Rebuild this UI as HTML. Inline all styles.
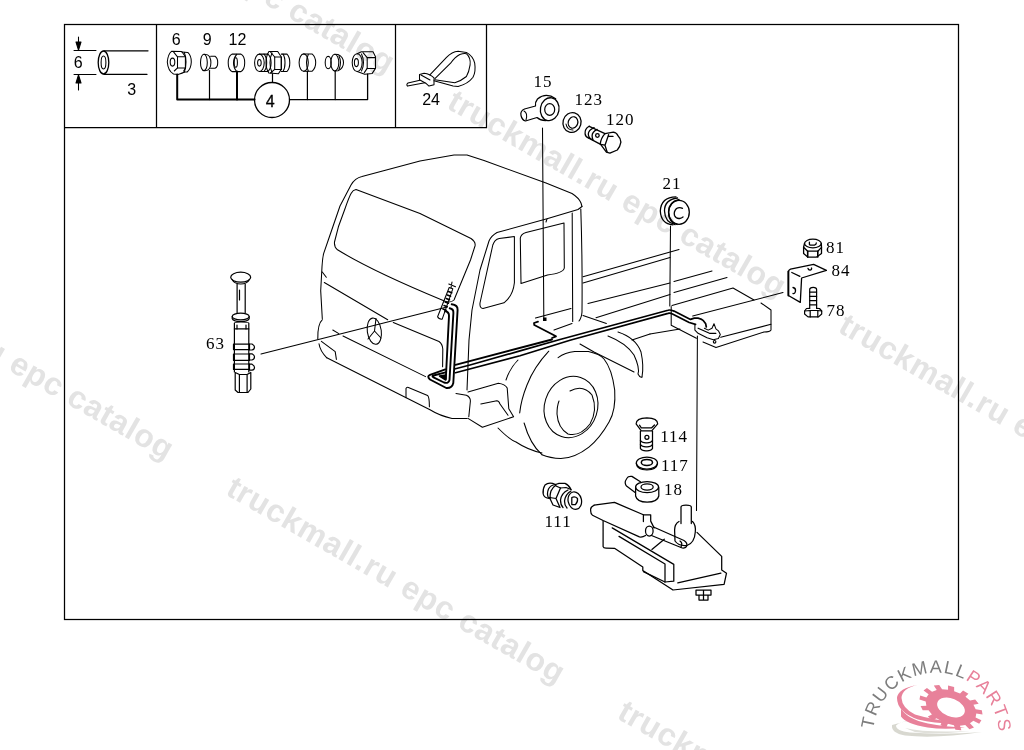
<!DOCTYPE html>
<html><head><meta charset="utf-8">
<style>
html,body{margin:0;padding:0;background:#fff;width:1024px;height:750px;overflow:hidden}
svg{display:block;will-change:transform}
.wm{font-family:"Liberation Sans",sans-serif;font-weight:bold;font-size:32px;letter-spacing:0.65px;fill:#e3e3e3}
.ls{font-family:"Liberation Sans",sans-serif;font-size:16px;fill:#000}
.lr{font-family:"Liberation Serif",serif;font-size:17px;letter-spacing:1px;fill:#000}
.k{fill:none;stroke:#000;stroke-width:1.05;stroke-linejoin:round;stroke-linecap:round}
.fr{fill:none;stroke:#000;stroke-width:1.25}
</style></head><body>
<svg width="1024" height="750" viewBox="0 0 1024 750">
<rect x="0" y="0" width="1024" height="750" fill="#fff"/>
<!-- WATERMARKS -->
<g id="wms">
<text class="wm" transform="translate(54.4,-116.4) rotate(29.8)">truckmall.ru epc catalog</text>
<text class="wm" transform="translate(445.6,107.4) rotate(29.8)">truckmall.ru epc catalog</text>
<text class="wm" transform="translate(836.8,331.2) rotate(29.8)">truckmall.ru epc catalog</text>
<text class="wm" transform="translate(-166.7,270.1) rotate(29.8)">truckmall.ru epc catalog</text>
<text class="wm" transform="translate(224.5,493.9) rotate(29.8)">truckmall.ru epc catalog</text>
<text class="wm" transform="translate(615.7,717.7) rotate(29.8)">truckmall.ru epc catalog</text>
</g>

<!-- FRAME -->
<g id="frame">
<rect class="fr" x="64.5" y="24.5" width="894" height="595"/>
<polyline class="fr" points="64.5,127.5 486.5,127.5 486.5,24.5"/>
<line class="fr" x1="156.5" y1="24.5" x2="156.5" y2="127"/>
<line class="fr" x1="395.5" y1="24.5" x2="395.5" y2="127"/>
</g>

<!-- BOX1 -->
<g id="box1" class="k">
<line x1="74" y1="50.5" x2="96" y2="50.5"/>
<line x1="74" y1="74.5" x2="96" y2="74.5"/>
<line x1="78.5" y1="37" x2="78.5" y2="50"/>
<line x1="78.5" y1="75" x2="78.5" y2="90"/>
<path d="M76,42 L81,42 L78.5,50 Z" fill="#000"/>
<path d="M76,83 L81,83 L78.5,75 Z" fill="#000"/>
<ellipse cx="103.5" cy="62.5" rx="5.3" ry="11.5" stroke-width="1.3"/>
<ellipse cx="103.5" cy="62.5" rx="2.4" ry="6.5"/>
<line x1="104" y1="50.8" x2="148" y2="50.8" stroke-width="1.3"/>
<line x1="104" y1="74.3" x2="147" y2="74.3" stroke-width="1.3"/>
</g>
<g id="box2" class="k" stroke-width="1.25">
<!-- nut 6 -->
<path d="M181.5,51.5 L171.5,51.3 Q168,54 167.3,62 Q168,71 173.5,74 L178,74.5 Q183,73 184.3,72"/>
<ellipse cx="172.5" cy="62.1" rx="2.3" ry="4"/>
<rect x="177.5" y="56.8" width="7.9" height="11.1"/>
<path d="M173.7,52.1 L177.5,56.8 M177.5,67.9 L174.3,71 M185.4,56.8 L181.9,51.8 M185.4,67.9 L183.7,71"/>
<path d="M181.9,52 L187.8,52.4 Q191.5,56 191.3,62.1 Q191,69 187.2,72 L184.3,72"/>
<path d="M184.3,52.4 Q186.2,57 186,62 Q186,68 184.3,72"/>
<!-- 9 -->
<ellipse cx="203.9" cy="62.4" rx="3.4" ry="8.2"/>
<path d="M204,54.2 Q208,54 209.5,56.5 Q211,60 210.9,62.4 Q211,66 209.5,68.5 Q208,71 204,70.6"/>
<path d="M210.6,56.2 L215,56.2 Q217.8,58 217.7,62.4 Q217.8,67 215,68.2 L210.6,68.2"/>
<!-- 12 -->
<path d="M232,54.1 L241,54.1 Q244.7,56 244.7,62.8 Q244.7,69.5 241,71.6 L232,71.6 Q228.2,69.5 228.2,62.8 Q228.2,56 232,54.1 Z"/>
<path d="M236.7,54.3 Q233.5,58 233.5,62.8 Q233.5,68 236.7,71.5"/>
<ellipse cx="235.8" cy="62.5" rx="1.6" ry="4.8"/>
<!-- union 4 -->
<ellipse cx="259.4" cy="62.8" rx="4.8" ry="8.7"/>
<ellipse cx="259.4" cy="62.8" rx="1.8" ry="3.3"/>
<path d="M259.4,54.1 L264,54.1 Q266.7,57 266.7,62.8 Q266.7,68.5 264,71.5 L259.4,71.5"/>
<path d="M264,54.1 L268,54.1 Q271.1,57 271.1,62.8 Q271.1,68.5 268,71.5 L264,71.5"/>
<path d="M268.9,51.5 L277.7,51.5 L281.3,57 L281.3,69.4 L278.4,73.8 L268.9,73.1 Q266,69 266,62.8 Q266,56 268.9,51.5"/>
<path d="M272,53 Q270,57 270,62.8 Q270,68.5 272,72.5"/>
<rect x="274.7" y="57" width="6.6" height="12.4"/>
<path d="M270.5,52 L274.7,57 M274.7,69.4 L270.5,73"/>
<path d="M281.3,54.1 L283,54.1 Q285,57 285,62.8 Q285,68.5 283,71.5 L281.3,71.5"/>
<path d="M283,54.1 L287,54.1 Q289.8,57 289.8,62.8 Q289.8,68.5 287,71.5 L283,71.5"/>
<!-- cylinder -->
<ellipse cx="303.7" cy="62.6" rx="4.6" ry="8.7"/>
<path d="M303.7,53.9 L312,53.9 Q315.7,57 315.7,62.6 Q315.7,68.5 312,71.3 L303.7,71.3"/>
<path d="M308.3,54.5 Q306.5,58 306.5,62.6 Q306.5,67.5 308.3,71"/>
<!-- small fitting -->
<ellipse cx="328.2" cy="62.6" rx="3" ry="6.2"/>
<ellipse cx="334.8" cy="62.6" rx="4" ry="8.3"/>
<path d="M334.8,54.3 L338,54.5 Q343.5,57 343.5,62.6 Q343.5,68.5 338,70.8 L334.8,70.9"/>
<path d="M339,56 Q340.5,59 340.5,62.6 Q340.5,66 339,69.5"/>
<!-- nut -->
<ellipse cx="357.2" cy="62.6" rx="5" ry="8.9"/>
<ellipse cx="356.4" cy="62.6" rx="2" ry="4"/>
<path d="M357.2,53.7 L361.4,51.8 L373,51.8 L375.5,56.8 L375.5,68.4 L372.2,73.4 L364.7,74.2 L357.2,71.5"/>
<rect x="367.2" y="57.6" width="8.3" height="10.8"/>
<path d="M363,52.6 L367.2,57.6 M367.2,68.4 L364.3,72.6"/>
<path d="M361.5,54 Q363.5,58 363.5,62.6 Q363.5,67 361.5,71"/>
<!-- leaders -->
<polyline points="177.2,74.5 177.2,99.6 254.5,99.6" stroke-width="2"/>
<line x1="209.5" y1="70.6" x2="209.5" y2="99.6" stroke-width="1.2"/>
<line x1="237" y1="71.6" x2="237" y2="99.6" stroke-width="2"/>
<line x1="272.5" y1="73.8" x2="272.5" y2="82.5" stroke-width="1.2"/>
<polyline points="289.5,99.6 367.6,99.6 367.6,74.2" stroke-width="1.3"/>
<line x1="307.4" y1="71.3" x2="307.4" y2="99.6" stroke-width="1.2"/>
<line x1="335.2" y1="70.9" x2="335.2" y2="99.6" stroke-width="1.2"/>
<circle cx="272" cy="100" r="17.5" stroke-width="1.3"/>
</g>
<g id="box3" class="k" stroke-width="1.25">
<path d="M419.9,80.2 L408,83 Q406,84.5 407.5,86.1 L424.9,82.7"/>
<path d="M419.5,74.5 L424.1,73.2 Q430,74 434,77.8 L434,84.8 L429,86.1 L425.7,83.2 L419.5,79.8 Z"/>
<path d="M421,75 L430,80"/>
<path d="M429.9,74.9 L446.5,57.4 Q452,51.5 458.1,51.2 L466.4,52.4 Q473,56 474.7,63.2 Q476,72 473,77.3 Q468,84 458.1,86.5 L453.1,86.1 L434,80.7"/>
<path d="M434.9,78.6 L450.6,63.2 Q455,57 459.8,54.5 Q464,53 466.4,53.7 Q471,58 470.1,64.9 Q469,72 466.4,76.5 Q461,81 454.8,82.7 L434.9,79.8"/>
</g>

<g id="truck" class="k">
<!-- cab outline + roof -->
<path d="M322.3,318.7 L320.7,290.7 L322,266.7 Q322.5,258 323.7,253.3 L328.3,240 L340,206 L351,185 Q355,178 362,176.5 L420,161 L454,155 L467,155 L484,160.5 L546,183 L572,193.5 Q579,198 581,203 L582,206.5"/>
<path d="M582,206.5 L578,209.5 L547,218.8 L497,232.5 Q491,236 489,241 L480,270 L472,310 L469,340 L467,390"/>
<!-- windshield -->
<path d="M356,189.5 L420,213.5 L471,238.5 Q476,242 475,246 L470.5,260 L454,300 Q450,304 442,300 Q372,271 337.5,249.8 Q334,247 334.5,242 L338.4,226.8 L344.8,209.2 Q349,197 351.2,193.2 Q353,190 356,189.5"/>
<!-- door window -->
<path d="M514.4,236.6 L514.4,282.8 Q513,296 504,302.8 L483,308.4 Q479.5,308 480,303 L492.8,245 Q494.5,239.5 499.2,238.4 Z"/>
<!-- rear side window -->
<path d="M526,232.5 L564,223 L564.3,268 Q563.5,273 547.5,275 L521,283.5 L520.3,238 Q521,234 526,232.5"/>
<!-- door rear / cab rear -->
<line x1="572.2" y1="213" x2="572.7" y2="321.5"/>
<path d="M580.8,209 Q582.5,260 582,312 Q581.5,318 579,321"/>
<line x1="583" y1="315.5" x2="606.4" y2="323.4"/>
<path d="M547,218.8 L546,222"/>
<line x1="535.5" y1="318" x2="571" y2="308.5"/>
<line x1="554" y1="330" x2="572" y2="323.5"/>
<!-- front face lines -->
<path d="M322.3,272 L326.3,277.3"/>
<path d="M324.3,282.5 L387.7,319.7 M393.3,322.5 L439,341.5 Q442.5,344 442.8,349 L442.6,366.7"/>
<!-- mercedes star -->
<ellipse cx="374.3" cy="331.2" rx="7" ry="13.2" transform="rotate(-8 374.3 331.2)"/>
<path d="M376,318.5 L374.5,331 L368,339 M374.5,331 L381,338"/>
<!-- left corner/bumper -->
<path d="M322.4,319.7 Q317.5,324 317.8,339 M319,343.8 Q320,351 326.8,357.8"/>
<path d="M321.4,341.4 L335.2,351.6 L336.4,359.4"/>
<path d="M332.8,330 L338.8,333.6 M343,336 L425.6,376.6"/>
<path d="M326.8,357.8 L430,409.8 Q440,416 452,418.4 L467.2,418.4"/>
<path d="M406,397.6 L406,388.5 Q406.5,387 408.4,387.4 L427.6,395.4 Q429.4,397 429.4,406.8"/>
<!-- step -->
<path d="M456,393.6 L466.4,395.2 Q470.4,397 470.4,401 L468.8,416.8"/>
<path d="M468,392 L498.4,383.2 Q505,384 507.2,388 L508.8,408.8 L513.6,416.8 L482.4,427.2 L468,418.4"/>
<path d="M480.8,404 L496.8,400.8 Q499,401 500,404 L508,415.2"/>
<!-- wheel -->
<path d="M558.1,357.6 Q565,352.5 574.7,351.5 L588.4,351.5 Q600,354 604,359 Q612,369 614.7,390 Q616,410 609.2,421.7 Q600,438 588.9,447.1 Q575,458 560.9,458.6 Q550,458 541.9,454.7"/>
<path d="M548.8,351.2 Q534,367 527,385 Q521,400 519.7,412.9"/>
<path d="M524.1,423 Q530,444 541.9,454.7"/>
<path d="M506,380 Q510,368 518,360"/>
<path d="M498,428 Q510,440 516,442 Q528,450 542,453"/>

<ellipse cx="571" cy="407" rx="26.5" ry="31" transform="rotate(18 571 407)"/>
<path d="M570,391 Q583,384 592,395 Q598,410 590,424 Q580,437 568,434 Q558,428 557,414 Q557,406 559,401"/>

<!-- rear fender -->
<path d="M608,336 Q626,343 634,355 Q640,368 638,374 Q640,378 642,377"/>
<path d="M618,332 Q636,338 641,352 Q644,366 642,377"/>
<path d="M580,344 L594,352 L634,372"/>
<line x1="632" y1="340" x2="650" y2="334"/>
<line x1="650" y1="334" x2="680" y2="329"/>
<!-- cargo bed lines -->
<line x1="583" y1="276.7" x2="679" y2="249.5"/>
<line x1="583" y1="283" x2="670" y2="257.5"/>
<line x1="588" y1="303.5" x2="670" y2="283"/>
<line x1="674" y1="281.5" x2="712" y2="271"/>
<line x1="596" y1="317.7" x2="670" y2="294.4"/>
<line x1="674" y1="292.5" x2="727" y2="277.6"/>
<!-- battery box -->
<path d="M672,305.5 L733,288 L754,300"/>
<path d="M761,303 L771,310 L771,330 Q770,332 764,332 L716,347.6 L703,342"/>
<line x1="720.7" y1="337.3" x2="771" y2="324.3"/>
<path d="M671.2,306.5 L671.2,325.2 L696.4,338.3"/>
<line x1="692.7" y1="316" x2="783" y2="292.5"/>
</g>
<g id="pipe" fill="none" stroke-linejoin="round" stroke-linecap="round">
<!-- nozzle -->
<g class="k" stroke-width="1.2">
<path d="M449.2,287.5 L452.8,288.8 L442.2,319.2 Q438.8,319.4 437.6,316.8 Z"/>
<path d="M448.4,291.5 L451.8,292.8 M447.3,295 L450.6,296.3 M446.2,298.5 L449.5,299.8 M445.1,302 L448.4,303.3 M444,305.5 L447.3,306.8 M442.9,309 L446.2,310.3" stroke-width="1.5"/>
<path d="M448.8,284 L455.5,286.8 M452,282 L451,288"/>
</g>
<!-- vertical tubes -->
<path d="M451.7,304.3 Q457.9,305 457.6,310 L453.3,383 Q452,388.5 446.3,388 L430,379.5 Q426.5,376.5 430,374.8 L445.3,369.4" stroke="#000" stroke-width="1.9"/>
<path d="M449.7,308.3 Q453.7,309 453.4,313 L449.5,380 Q448.5,384 444,382.5 L433.5,377.3 Q431.5,376.3 433.5,375.5 L445.5,372.3" stroke="#000" stroke-width="1.9"/>
<path d="M445,311 Q449.2,312 449,316 L445.8,379" stroke="#000" stroke-width="1.9"/>
<path d="M455.5,364.9 L552,339.5" stroke="#000" stroke-width="1.9"/>
<path d="M455.5,368.8 L470,365.0 L520,350.9 L560,339.5 L668,310.2 Q670,309.5 674,311.1 L690.5,319.4 L694.3,318.1 L698.1,318.1 Q702,319 703.2,320.6 L705.7,323.8 L706.3,327" stroke="#000" stroke-width="1.7"/>
<path d="M455.5,372.7 L520,355.7 L570,340.3 L668,313.4 Q670,312.8 673,314.2 L689.2,322.5 L695.5,324.4" stroke="#000" stroke-width="1.7"/>
<path d="M439.5,376 L445.8,375 L445.8,380 Z" fill="#000" stroke="#000" stroke-width="1.5"/>
<!-- clip z -->
<path d="M538,321.7 L534,323 L534.3,325 L556,336.3 L552,338" stroke="#000" stroke-width="1.8"/>
<rect x="543" y="317.5" width="3.5" height="3.5" fill="#000" stroke="none"/>
<!-- valve -->
<g class="k" stroke-width="1.5">
<path d="M694.9,324.4 L694.9,330.1 L698.1,333.3 L707,337.8 L713.3,339.7 L718.4,338.4 L720.3,334.6 L718.4,330.8 L715.9,328.9 L714,323.8 L712,328.2 L708.2,330.1 L704.4,328.2"/>
<path d="M698.1,328.2 L709.5,333.3 L715.9,333.3" stroke-width="1.2"/>
<circle cx="714.6" cy="341.8" r="1.3" stroke-width="1.1"/>
</g>
</g>
<g id="leaders" class="k">
<line x1="542.5" y1="128" x2="543.8" y2="318"/>
<line x1="670.5" y1="226" x2="669.8" y2="306"/>
<line x1="261" y1="354" x2="447" y2="307"/>
<line x1="697.4" y1="336" x2="696.5" y2="510.5"/>
</g>

<g id="parts" class="k">
<!-- 15 banjo -->
<path d="M555.7,98.8 Q546,92 537.5,99 Q535,102 535.5,106 L524.5,109 Q520,111 521,115.5 Q522,120 525.5,121 L537,117.5 Q541,121 547,120.5" stroke-width="1.2"/>
<ellipse cx="549.7" cy="109.2" rx="9.3" ry="11.5" stroke-width="1.3" transform="rotate(10 549.7 109.2)"/>
<ellipse cx="549.7" cy="109.5" rx="5" ry="5.8" stroke-width="1.2"/>
<path d="M524,111 Q528,113 526,120"/>
<!-- 123 washer -->
<ellipse cx="572" cy="122.5" rx="9" ry="10" stroke-width="1.3" transform="rotate(15 572 122.5)"/>
<ellipse cx="573" cy="122.5" rx="4.8" ry="5.8" stroke-width="1.2" transform="rotate(15 573 122.5)"/>
<path d="M566,124 Q567,130 573,130"/>
<!-- 120 bolt -->
<g stroke-width="1.3">
<path d="M589.2,126.3 Q584.5,129 585.1,133.8 Q585.5,137 588.8,138.2"/>
<path d="M594.1,127.6 Q588.5,130 588.3,134 Q588.5,138 591.9,139.5"/>
<path d="M597.1,129.4 Q592,132 592.1,136 Q592.3,139 593.2,140.4"/>
<path d="M589.2,126.3 L605,133.6 M588.8,138.2 L600.6,144.3"/>
<circle cx="597.4" cy="135.5" r="1.8"/>
<path d="M605,133.6 L613.4,132.2 Q617,133 617.8,135.5 Q620.5,138 620.9,142.1 Q620,147 617.3,150 L609.9,153.1 L606.4,152.2 L600.6,144.3"/>
<path d="M605,133.6 Q601,138 600.2,143.9"/>
<path d="M608.6,134.7 L605,145.2 L607.2,152.2 M605,145.2 L600.6,144.3 M609,136.4 L613,136.4"/>
</g>
<!-- 21 grommet -->
<g stroke-width="1.3">
<path d="M676,196.8 Q661,197 660.3,211 Q661,224 673,224.8"/>
<path d="M677.5,198 Q664.5,199.5 664.5,211 Q665,222.5 675,224.5"/>
<path d="M679,199.5 Q668.5,202 668.5,212 Q668.5,222 677,224.5"/>
<ellipse cx="679" cy="212.3" rx="10.3" ry="12"/>
<path d="M682.5,208.3 Q679.5,206.8 676.5,208.5 Q673.5,211.5 674.5,215.5 Q676,218.8 679.5,218.5 Q681.5,218.2 683,217"/>
</g>
<!-- 81 nut -->
<g stroke-width="1.3">
<ellipse cx="812.9" cy="243.5" rx="8.4" ry="4.3"/>
<path d="M809.4,242.2 L809.4,244.3 Q810,245.2 811.1,245.2 L814.4,245.2 Q816.3,244.5 816.3,243"/>
<path d="M804.5,243.5 L803.6,247.2 L803.6,253.4 L807.7,257.1 L816.6,257.1 L821.5,253.4 L821.5,247.4 L821.3,243.5"/>
<path d="M803.6,247.2 L807.7,251.2 L817.8,251.2 L821.5,247.4"/>
<path d="M807.7,251.2 L807.7,257.1 M817.8,251.2 L817.8,257.1" stroke-width="1.6"/>
</g>
<!-- 84 bracket -->
<g stroke-width="1.3">
<path d="M788.4,295.5 L788.4,271.7 Q788.8,269.8 790.5,269.1 L813.6,264.4 L826.4,270.4 L801.6,278 L800.3,302.4 Z"/>
<line x1="788.4" y1="271.5" x2="788.4" y2="295.5" stroke-width="1.8"/>
<line x1="791.8" y1="272.5" x2="799.9" y2="276.3"/>
<path d="M808,268.5 Q808.5,270.3 810.5,270 Q812,269.5 811.5,268"/>
<path d="M793,287.5 Q795.8,288 795.5,291 Q795,294 793,293.5"/>
</g>
<!-- 78 bolt -->
<g stroke-width="1.2">
<path d="M809.7,308.3 L809.7,289.5 Q809.7,287.4 813.2,287.4 Q816.6,287.4 816.6,289.5 L816.6,308.3"/>
<path d="M809.7,292.1 L816.6,292.1 M809.7,296.4 L816.6,296.4 M809.7,300.6 L816.6,300.6 M809.7,304.9 L816.6,304.9"/>
<path d="M809.7,308.3 L806.5,308.5 L804.6,311 L804.6,314 L808,316.9 L818.5,316.9 L821.7,314 L821.7,311 L819.5,308.5 L816.6,308.3"/>
<path d="M804.6,311 L810.2,310.5 L817.8,310.5 L821.7,311 M810.2,310.5 L810.2,316.9 M817.8,310.5 L817.8,316.9"/>
</g>
<!-- 63 valve -->
<g stroke-width="1.2">
<ellipse cx="240.7" cy="277.2" rx="10" ry="5"/>
<path d="M232,279.5 Q234.5,284 240.7,284 Q247,284 249.5,279.5"/>
<path d="M237.1,284 L237.1,312.7 M245.2,284 L245.2,312.7 M239.5,290 L239.5,300"/>
<ellipse cx="240.7" cy="316.5" rx="8.5" ry="3.3"/>
<path d="M232.2,316.5 L232.2,318.5 Q233,321.5 240.7,321.5 Q248.5,321.5 249.2,318.5 L249.2,316.5"/>
<path d="M234.4,323 Q234.4,322 241,322 Q248.8,322 248.8,323 L248.8,328.9 L234.4,328.9 Z"/>
<path d="M237,325 L237,328.9 M246,325 L246,328.9"/>
<path d="M234.4,328.9 L234.4,372 M248.8,328.9 L248.8,372"/>
<path d="M233.5,344.2 L249.5,344.2 L249.5,349.6 L233.5,349.6 Z M233.5,354 L249.5,354 L249.5,360.4 L233.5,360.4 Z M233.5,364 L249.5,364 L249.5,369.4 L233.5,369.4 Z"/>
<path d="M249.5,344 L252,344 Q254.5,345.5 254.5,347 Q254.5,349.5 252,350 L249.5,350 M249.5,353.8 L252,353.8 Q254.5,355.3 254.5,356.8 Q254.5,359.5 252,360 L249.5,360 M249.5,364.2 L252,364.2 Q254.5,365.7 254.5,367.2 Q254.5,369.8 252,370.2 L249.5,370.2"/>
<path d="M235.2,372.5 L239.4,374.5 L247.1,374.5 L250.8,372.5 L250.8,389 L248,392.5 L238,392.5 L235.2,390 Z M239.4,374.5 L239.4,392.5 M247.1,374.5 L247.1,392.5"/>
</g>
<!-- 114 bolt -->
<g stroke-width="1.25">
<path d="M636.1,423.9 Q636,418 646.9,417.8 Q657.8,418 657.7,423.9 L651.7,430.8 L641.3,430.8 Z"/>
<path d="M639.5,425.2 L641.3,427.8 L651.7,427.8 L654.5,425"/>
<path d="M640.4,431 L640.4,448.5 Q642,451 646.5,450.8 Q651,451 652.5,448.5 L652.5,431"/>
<circle cx="646.9" cy="437.3" r="2"/>
<path d="M640.4,440.5 Q642,443 646.5,442.8 Q651,443 652.5,440.5 M640.4,444.5 Q642,447 646.5,446.8 Q651,447 652.5,444.5"/>
</g>
<!-- 117 washer -->
<g stroke-width="1.25">
<ellipse cx="646.9" cy="463" rx="10.6" ry="6"/>
<path d="M636.3,463.5 Q637,469.8 646.9,470 Q656.8,469.8 657.5,463.5"/>
<ellipse cx="646.9" cy="462.4" rx="5.6" ry="3" stroke-width="1.5"/>
</g>
<!-- 18 banjo -->
<g stroke-width="1.25">
<ellipse cx="647.1" cy="487.1" rx="11.5" ry="5.6"/>
<ellipse cx="647.1" cy="487" rx="6.1" ry="3.1"/>
<path d="M635.6,487.5 L635.6,496 Q637,502 647.1,502.2 Q657.5,502 658.8,496 L658.8,487.5"/>
<path d="M640.4,481.7 L631.9,476.4 Q628,476 627.1,478 Q625,481 625.2,482.8 Q625.5,485 626.5,486 L635.1,492.4"/>
</g>
<!-- 111 fitting -->
<g stroke-width="1.25">
<path d="M555.5,484.5 Q549,481.5 545,485 Q542.5,489 543.2,494 Q544,498 549.5,498.5"/>
<path d="M555.5,484.5 Q550.5,485 548.5,489 Q546.5,494 548.5,498"/>
<path d="M556,485 Q552.5,487.5 551,491 Q549.5,496 550.5,498"/>
<path d="M555.5,484.5 L559,483.3 L565,483.3 Q569,485 571,489.5"/>
<path d="M556,486 L560.5,488 L566,487.5 L571,489.5"/>
<path d="M560.5,488 L556,498.5 L549.5,497.5 L553,505 L560,507.5 L556,498.5"/>
<path d="M568,490 Q561.5,493 560.5,500 Q560.5,505 563,507.5"/>
<path d="M571,491 Q565.5,494 564.5,501 Q564.5,505.5 567,508"/>
<ellipse cx="574.8" cy="500.6" rx="6.7" ry="8.8" transform="rotate(-12 574.8 500.6)"/>
<path d="M571.8,497.5 L571.8,504.5 L575.5,504.5 Q578,502 577.5,498.5 Q575,496 571.8,497.5 Z"/>
</g>
<!-- reservoir -->
<g stroke-width="1.25">
<path d="M594.1,505.2 Q590,507 590.7,510.5 Q590.5,514 592.5,515.2 L603.1,520.5 L639.4,536.9 Q642.5,537.5 645.5,535.5"/>
<path d="M594.1,505.2 L614.5,502.4 L643.4,514.8 L650.7,514.8 L650.7,521.1 L654.1,527.9"/>
<line x1="643.4" y1="514.8" x2="643.4" y2="521.5"/>
<ellipse cx="649.3" cy="531" rx="3.8" ry="5"/>
<path d="M653.5,527 L684,540.5 Q688,543 686.5,546.5 Q684.5,549 681,547.5 L651.5,535.5"/>
<path d="M680,541 Q683,543 681,547"/>
<path d="M603.1,521.1 L603.1,546.6 Q603.5,548 606,548.1 L614.5,548.3 L642.8,567 L642.8,570.4 L673,590 L724.1,584.4 L726.5,573.2 L721.7,570 L721.7,556.4 L697,532.4"/>
<path d="M612.2,527.9 L673.8,564.4 L673.8,581.2 L665,582 L643.4,571.6"/>
<path d="M619,536.4 L665,564 L665,582"/>
<line x1="651.9" y1="549.4" x2="664.3" y2="539.2"/>
<line x1="677.8" y1="582.8" x2="720.9" y2="573.2"/>
<path d="M681,523.6 L681,507 Q681,505 686,505 Q691.3,505 691.3,507 L691.3,523.6"/>
<path d="M679,521.5 Q674.6,524 674.6,530 L675,541 Q679,546.5 687,545.5 Q694.5,543 695.3,532 Q696,525 692.5,521.5"/>
<path d="M696,590 L696,595 L711,595 L711,590 Z M699,595 L699,600 L708,600 L708,595 M703.5,590 L703.5,600"/>
</g>
</g>

<g id="logo">
<g transform="translate(951,707.5) rotate(22) scale(1,0.62)">
<path d="M26.5,0.0 L33.0,0.8 L32.2,7.1 L25.7,6.3 L23.5,12.3 L28.8,16.0 L25.2,21.3 L19.8,17.6 L15.1,21.8 L18.1,27.6 L12.4,30.6 L9.4,24.8 L3.2,26.3 L3.2,32.8 L-3.2,32.8 L-3.2,26.3 L-9.4,24.8 L-12.4,30.6 L-18.1,27.6 L-15.1,21.8 L-19.8,17.6 L-25.2,21.3 L-28.8,16.0 L-23.5,12.3 L-25.7,6.3 L-32.2,7.1 L-33.0,0.8 L-26.5,0.0 L-25.7,-6.3 L-31.8,-8.7 L-29.6,-14.6 L-23.5,-12.3 L-19.8,-17.6 L-24.2,-22.5 L-19.4,-26.7 L-15.1,-21.8 L-9.4,-24.8 L-11.0,-31.1 L-4.8,-32.7 L-3.2,-26.3 L3.2,-26.3 L4.8,-32.7 L11.0,-31.1 L9.4,-24.8 L15.1,-21.8 L19.4,-26.7 L24.2,-22.5 L19.8,-17.6 L23.5,-12.3 L29.6,-14.6 L31.8,-8.7 L25.7,-6.3 Z M14.5,0 A14.5,14.5 0 1 0 -14.5,0 A14.5,14.5 0 1 0 14.5,0 Z" fill="#e8819a" fill-rule="evenodd"/>
</g>
<path d="M892,725 Q891,733 905,735.5 Q935,739 982,732 Q940,735 910,732.5 Q896,731 896,725.5 Q900,721 915,720 Q903,721.5 892,725 Z" fill="#d8d8d0"/>
<path d="M905,728 Q925,733 970,731 Q935,735 915,732 Z" fill="#e0e0da"/>
<path d="M918,685 Q902,688 901.5,698 Q902,708 915,714.5 Q935,721 968,723 Q940,725 918,719.5 Q897,712 897,698 Q898,688 918,685 Z" fill="#e8819a"/>
<path d="M901,708.5 L901,716.5 Q906,724 927.6,727.5 Q945,730 965,727.5 Q945,727 928,723.5 Q907,719 901,708.5 Z" fill="#e8819a"/>
<path id="arcp" d="M873,735.7 A63,63 0 0 1 999,735.7" fill="none"/>
<text font-family="Liberation Sans, sans-serif" font-size="18" letter-spacing="1.5"><textPath href="#arcp" startOffset="6.5"><tspan fill="#7d7d7d">TRUCKMALL</tspan><tspan fill="#e8819a">PARTS</tspan></textPath></text>
</g>
<!-- LABELS -->
<g id="labels">
<text class="ls" x="78.3" y="68.1" text-anchor="middle">6</text>
<text class="ls" x="131.6" y="94.7" text-anchor="middle">3</text>
<text class="ls" x="176.2" y="44.8" text-anchor="middle">6</text>
<text class="ls" x="207.2" y="44.8" text-anchor="middle">9</text>
<text class="ls" x="237.4" y="44.8" text-anchor="middle">12</text>
<text class="ls" x="270.2" y="106.5" text-anchor="middle" font-size="17" stroke="#000" stroke-width="0.3">4</text>
<text class="ls" x="431.1" y="104.7" text-anchor="middle">24</text>
<text class="lr" x="543.0" y="87.2" text-anchor="middle">15</text>
<text class="lr" x="588.8" y="104.7" text-anchor="middle">123</text>
<text class="lr" x="620.3" y="125.0" text-anchor="middle">120</text>
<text class="lr" x="672.1" y="189.3" text-anchor="middle">21</text>
<text class="lr" x="835.5" y="252.9" text-anchor="middle">81</text>
<text class="lr" x="840.9" y="276.3" text-anchor="middle">84</text>
<text class="lr" x="836.1" y="316.4" text-anchor="middle">78</text>
<text class="lr" x="215.5" y="348.5" text-anchor="middle">63</text>
<text class="lr" x="660.2" y="441.7">114</text>
<text class="lr" x="660.9" y="470.7">117</text>
<text class="lr" x="663.9" y="495.3">18</text>
<text class="lr" x="544.5" y="527.4">111</text>
</g>
</svg>
</body></html>
